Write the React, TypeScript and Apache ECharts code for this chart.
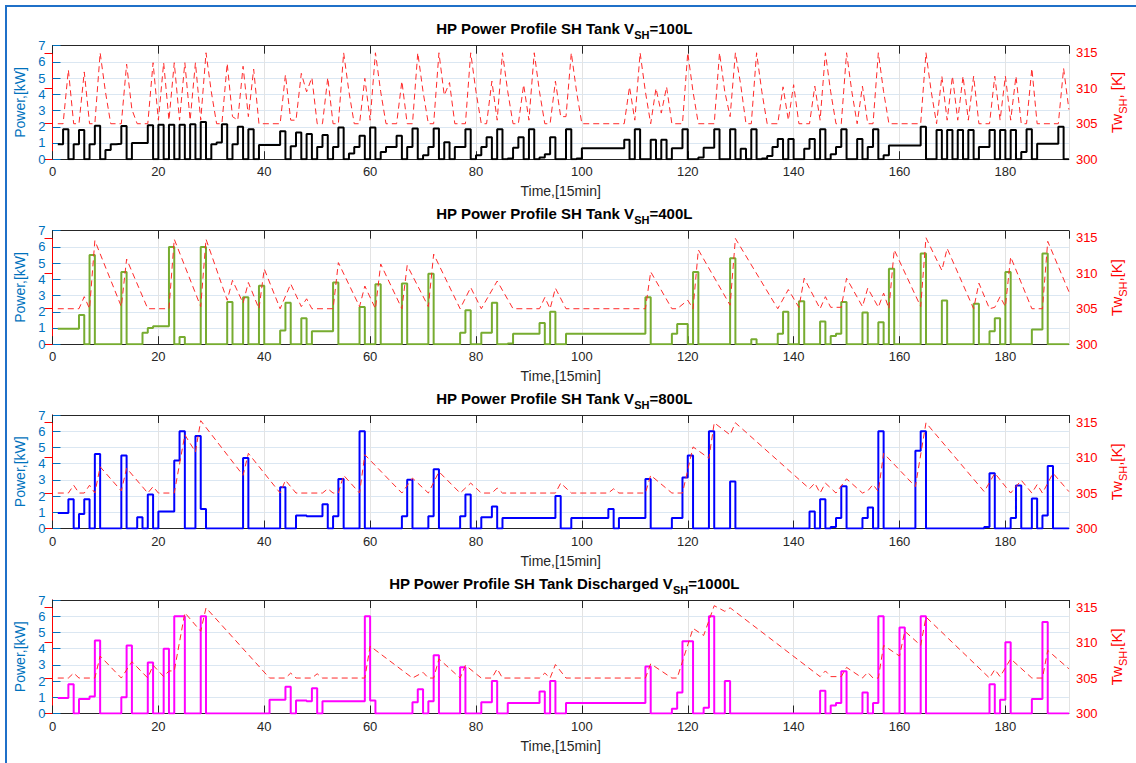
import React, { useEffect, useRef } from "react";
import * as echarts from "echarts";

// ---------- data: power steps [time, kW] (value holds until next point) ----------
const p1Power = [[1,0.92],[2,1.85],[3,0],[4,0.92],[5,1.8],[6,0],[7,0.92],[8,2.07],[9,0],[10,0.57],[11,0.92],[12,0.95],[13,2.05],[14,0],[15,1.0],[18,2.1],[19,0],[20,2.12],[21,0],[22,2.12],[23,0],[24,2.12],[25,0],[26,2.15],[27,0],[28,2.3],[29,0],[30,0.92],[31,1.03],[32,2.15],[33,0],[34,0.92],[35,2.0],[36,0],[37,1.85],[38,0],[39,0.88],[43,1.72],[44,0],[45,0.8],[46,1.65],[47,0],[48,1.55],[49,0],[50,0.75],[51,1.5],[52,0],[53,0.75],[54,1.95],[55,0],[56,0.35],[57,0.75],[58,1.45],[59,0],[60,1.95],[61,0],[62,0.45],[63,0.75],[65,1.45],[66,0],[67,0.75],[68,1.9],[69,0],[70,0.25],[71,0.75],[72,1.9],[73,0],[74,1.05],[75,0],[76,0.75],[78,1.85],[79,0],[80,0.25],[81,0.75],[82,1.35],[83,0],[84,1.85],[85,0],[86,0.05],[87,0.7],[88,1.35],[89,0],[90,1.85],[91,0],[92,0.1],[93,0.3],[94,1.35],[95,0],[97,1.85],[98,0],[99,0.05],[100,0.68],[108,1.2],[109,0],[110,1.85],[111,0],[113,1.2],[114,0],[115,1.2],[116,0],[117,0.68],[119,1.85],[120,0],[122,0.1],[123,0.7],[125,1.85],[126,0],[128,1.85],[129,0],[130,0.65],[131,0],[132,1.85],[133,0],[134,0.05],[135,0.2],[136,0.75],[137,1.25],[138,0],[139,1.25],[140,0],[142,0.65],[143,1.25],[144,0],[145,1.85],[146,0],[147,0.3],[148,0.75],[149,1.85],[150,0],[152,1.25],[153,0],[154,0.75],[155,1.85],[156,0],[157,0.25],[158,0.85],[164,2.0],[165,0],[167,1.8],[168,0],[169,1.8],[170,0],[171,1.8],[172,0],[173,1.8],[174,0],[175,0.75],[177,1.8],[178,0],[179,1.8],[180,0],[181,1.8],[182,0],[183,0.45],[184,1.85],[185,0],[186,0.95],[190,2.0],[191,0],[192,0]];
const p1Temp = [[1,305],[2,305],[3,312.6],[4,305],[5,305],[6,312.3],[7,305],[8,305],[9,315],[10,309.5],[11,305],[13,305],[14,313.4],[15,307],[16,305],[18,305],[19,313.6],[20,305.5],[21,313.6],[22,305.5],[23,313.6],[24,305.5],[25,313.6],[26,305.5],[27,313.6],[28,305.5],[29,315],[30,309.5],[31,305],[32,305],[33,313.5],[34,306],[35,305.5],[36,313.1],[37,306],[38,312.7],[39,305],[43,305],[44,311.9],[45,305.5],[46,305.5],[47,312.1],[48,309.5],[49,311.5],[50,305],[51,305],[52,311.5],[53,305],[54,305],[55,315],[56,309.5],[57,305],[58,305],[59,311.4],[60,305.5],[61,315],[62,309.5],[63,305],[65,305],[66,311],[67,305],[68,305],[69,315],[70,309.5],[71,305],[72,305],[73,315],[74,309],[75,310.8],[76,305],[78,305],[79,315],[80,309.5],[81,305],[82,305],[83,311],[84,305.5],[85,315],[86,309.5],[87,305],[88,305],[89,310.5],[90,305.5],[91,315],[92,309.5],[93,305],[94,305],[95,311],[96,306],[97,306],[98,315],[99,309.5],[100,305],[108,305],[109,310.2],[110,305.5],[111,315],[112,309.5],[113,305],[114,310],[115,306.5],[116,310.2],[117,305],[119,305],[120,315],[121,309.5],[122,305],[125,305],[126,315],[127,309.5],[128,306],[129,315],[130,310.5],[131,305],[132,305],[133,315],[134,309.5],[135,305],[137,305],[138,310.2],[139,305.5],[140,310.5],[141,305],[143,305],[144,310.3],[145,305.5],[146,315],[147,309.5],[148,305],[149,305],[150,315],[151,309.5],[152,305],[153,310.3],[154,305],[155,305],[156,315],[157,309.5],[158,305],[164,305],[165,315],[166,309.5],[167,305],[168,311.7],[169,305.5],[170,311.7],[171,305.5],[172,311.7],[173,305.5],[174,311.7],[175,305],[177,305],[178,311.7],[179,305.5],[180,311.7],[181,305.5],[182,311.7],[183,305],[184,305],[185,312.8],[186,305],[190,305],[191,312.8],[192,307]];

const p2Power = [[1,0.95],[5,1.8],[6,0],[7,5.5],[8,0],[13,4.45],[14,0],[17,0.7],[18,1.0],[19,1.1],[22,6.0],[23,0],[24,0.45],[25,0],[28,6.0],[29,0],[33,2.6],[34,0],[36,2.9],[37,0],[39,3.6],[40,0],[43,0.85],[44,2.55],[45,0],[47,1.6],[48,0],[49,0.8],[53,3.8],[54,0],[58,2.3],[59,0],[61,3.7],[62,0],[66,3.75],[67,0],[71,4.35],[72,0],[77,0.7],[78,2.1],[79,0],[81,0.7],[83,2.55],[84,0],[86,0.05],[87,0.65],[92,1.3],[93,0],[94,2.0],[95,0],[97,0.65],[112,2.9],[113,0],[117,0.65],[118,1.25],[120,0],[121,4.45],[122,0],[128,5.3],[129,0],[132,0.3],[133,0],[137,0.65],[138,2.0],[139,0],[141,2.65],[142,0],[145,1.4],[146,0],[147,0.5],[148,0.65],[149,2.6],[150,0],[153,1.95],[154,0],[156,1.35],[157,0],[158,4.65],[159,0],[164,5.6],[165,0],[168,2.7],[169,0],[174,2.5],[175,0],[177,0.8],[178,1.6],[179,0],[180,4.45],[181,0],[185,0.9],[187,5.6],[188,0],[192,0]];
const p2Temp = [[1,305],[5,305],[6,306.7],[7,305],[8,314.6],[13,305.3],[14,312],[18,305],[22,305],[23,314.8],[28,305.3],[29,314.8],[33,306.2],[34,309],[36,305.8],[37,308.7],[39,305],[40,310.6],[43,305],[45,308.5],[47,305.3],[48,306.4],[49,305],[53,305],[54,311.5],[58,305.3],[59,308.2],[61,305],[62,311.3],[66,305],[67,311.1],[71,305.3],[72,312.7],[77,305],[79,308],[81,305],[84,308.9],[87,305],[92,305],[93,306.6],[94,305],[95,307.9],[97,305],[112,305],[113,310.2],[117,305],[118,305],[120,306.2],[121,305],[122,313.3],[128,305.5],[129,314.9],[137,305],[139,307.7],[141,305.2],[142,309.3],[145,305],[146,306.7],[147,305.2],[149,305.2],[150,309.3],[153,305.3],[154,307.9],[156,305.2],[157,307.2],[158,305],[159,313.3],[164,305.3],[165,315],[168,310.4],[169,313.5],[174,305],[175,308.6],[177,305],[178,305.2],[179,306.7],[180,305.3],[181,312.3],[185,305],[187,305],[188,314.5],[192,307.4]];

const p3Power = [[1,0.95],[3,1.8],[4,0],[5,0.9],[6,1.8],[7,0],[8,4.6],[9,0],[13,4.5],[14,0],[16,0.7],[17,0],[18,2.1],[19,0],[20,1.05],[23,4.2],[24,6.0],[25,0],[27,5.7],[28,1.2],[29,0],[36,4.35],[37,0],[43,2.55],[44,0],[46,0.8],[48,0.75],[51,1.5],[52,0],[53,0.75],[54,3.05],[55,0],[58,6.0],[59,0],[66,0.75],[67,3.0],[68,0],[71,0.75],[72,3.65],[73,0],[77,0.75],[78,2.1],[79,0],[81,0.7],[83,1.35],[84,0],[85,0.65],[95,2.0],[96,0],[98,0.65],[105,1.2],[106,0],[107,0.65],[112,3.05],[113,0],[117,0.65],[119,3.15],[120,4.5],[121,0],[124,6.0],[125,0],[128,2.9],[129,0],[143,1.05],[144,0],[145,1.8],[146,0],[147,0.1],[148,0.65],[149,2.6],[150,0],[153,0.65],[154,1.3],[155,0],[156,6.0],[157,0],[163,4.8],[164,6.0],[165,0],[176,0.1],[177,3.4],[178,0],[181,0.65],[182,2.65],[183,0],[185,1.85],[186,0],[187,0.8],[188,3.85],[189,0],[192,0]];
const p3Temp = [[1,305],[3,305],[4,306.1],[5,305],[6,305],[7,306.1],[8,305],[9,308.7],[13,305.3],[14,308.5],[18,305],[19,305.9],[20,305],[23,305],[25,313.2],[27,310.8],[28,315.2],[36,307.5],[37,310.6],[43,305],[44,306.8],[46,305],[51,305],[52,305.6],[53,305],[54,305],[55,307.5],[58,305],[59,310.4],[66,305],[68,307.1],[71,305],[73,308],[77,305],[79,306.4],[81,305],[83,305],[84,305.7],[85,305],[95,305],[96,306.4],[98,305],[105,305],[106,305.6],[107,305],[112,305],[113,307.5],[117,305],[119,305],[121,311.5],[124,309.9],[125,314.9],[128,313.2],[129,314.9],[143,305.6],[144,306.4],[145,305],[146,306.4],[148,305],[150,307],[153,305],[154,305.3],[155,306.2],[156,305.2],[157,310.6],[163,305.9],[165,314.9],[176,305.2],[178,307.8],[181,305],[183,306.8],[185,305],[186,306.2],[187,305],[189,307.8],[192,305.2]];

const p4Power = [[1,0.95],[3,1.8],[4,0],[5,0.9],[7,1.05],[8,4.5],[9,0],[13,1.0],[14,4.2],[15,0],[18,3.15],[19,0],[21,4.0],[22,0],[23,6.0],[25,0],[28,6.0],[29,0],[41,0.85],[44,1.65],[45,0],[46,0.8],[48,0.75],[49,1.55],[50,0],[51,0.75],[59,6.0],[60,0.8],[61,0],[68,0.7],[69,1.5],[70,0],[71,0.75],[72,3.6],[73,0],[77,2.85],[78,0],[81,0.7],[83,2.0],[84,0],[86,0.65],[92,1.35],[93,0],[94,2.0],[95,0],[97,0.65],[112,2.9],[113,0],[117,0.3],[118,1.3],[119,4.45],[121,0],[123,0.35],[124,6.0],[125,0],[127,2.0],[128,0],[145,1.4],[146,0],[147,0.5],[148,0.65],[149,2.6],[150,0],[153,1.3],[154,0],[155,0.65],[156,6.0],[157,0],[160,5.3],[161,0],[164,6.0],[165,0],[177,1.8],[178,0],[179,0.85],[180,4.4],[181,0],[185,0.9],[187,5.65],[188,0],[192,0]];
const p4Temp = [[1,305],[3,305],[4,305.7],[5,305],[8,305],[9,308.1],[13,305],[15,307.3],[18,305],[19,306.8],[21,305.2],[22,306],[23,306],[25,314.2],[28,311.6],[29,314.9],[41,305],[44,305],[45,305.7],[46,305],[49,305],[50,305.6],[51,305],[59,305],[60,309.5],[68,305],[70,305.8],[71,305],[72,305],[73,307.7],[77,305],[78,306.8],[81,305],[83,305],[84,306.3],[85,305],[92,305],[93,305.7],[94,305],[95,306.9],[97,305],[112,305],[113,307],[117,305],[118,305],[121,312],[123,311],[125,315.2],[127,314.4],[128,314.9],[145,305.2],[146,306],[147,305.2],[149,305.2],[150,306.5],[153,305],[154,305.8],[155,305],[156,305],[157,309.6],[160,308.1],[161,311.6],[164,309.6],[165,313.6],[177,305],[178,306.2],[179,305.2],[181,307.7],[185,305],[187,305],[188,308.9],[192,306.3]];

const titlePrefixes = ["HP Power Profile SH Tank V", "HP Power Profile SH Tank V", "HP Power Profile SH Tank V", "HP Power Profile SH Tank Discharged V"];
const titleSuffixes = ["=100L", "=400L", "=800L", "=1000L"];
const rightNameTails = ", [K]|,[K]|,[K]|,[K]".split("|");
const powerColors = ["#000000", "#77AC30", "#0000FF", "#FF00FF"];
const powerSeries = [p1Power, p2Power, p3Power, p4Power];
const tempSeries = [p1Temp, p2Temp, p3Temp, p4Temp];
const xTickLabels = [0, 20, 40, 60, 80, 100, 120, 140, 160, 180];

const FONT = "'Liberation Sans', Arial, Helvetica, sans-serif";
const BLUE = "#0072BD";
const RED = "#FF0000";
const DARK = "#262626";

const gridTops = [45.7, 230.7, 415, 600];
const GRID_H = 113.5;
const GRID_L = 52.5;
const GRID_R = 60;

function buildOption() {
  const grid: any[] = [];
  const xAxis: any[] = [];
  const yAxis: any[] = [];
  const series: any[] = [];
  const graphic: any[] = [];

  for (let i = 0; i < 4; i++) {
    grid.push({ left: GRID_L, right: GRID_R, top: gridTops[i], height: GRID_H, containLabel: false });
    xAxis.push({
      type: "value", gridIndex: i, min: 0, max: 192, interval: 20, position: "bottom",
      axisLine: { show: true, lineStyle: { color: DARK, width: 1 } },
      axisTick: { show: true, inside: true, length: 8, lineStyle: { color: DARK } },
      axisLabel: {
        show: true, fontSize: 13, color: DARK, fontFamily: FONT, margin: 6, showMaxLabel: false,
        formatter: (v: number) => (xTickLabels.indexOf(v) >= 0 ? String(v) : ""),
      },
      splitLine: { show: true, lineStyle: { color: "#e3e3e3", width: 1 } },
      name: "Time,[15min]", nameLocation: "middle", nameGap: 25,
      nameTextStyle: { fontSize: 14, color: DARK, fontFamily: FONT },
    });
    xAxis.push({
      type: "value", gridIndex: i, min: 0, max: 192, interval: 20, position: "top",
      axisLine: { show: true, lineStyle: { color: DARK, width: 1 } },
      axisTick: { show: true, inside: true, length: 8, lineStyle: { color: DARK } },
      axisLabel: { show: false }, splitLine: { show: false },
    });
    yAxis.push({
      type: "value", gridIndex: i, min: 0, max: 7, interval: 1, position: "left",
      axisLine: { show: true, lineStyle: { color: BLUE, width: 1 } },
      axisTick: { show: true, inside: true, length: 8, lineStyle: { color: BLUE } },
      axisLabel: { fontSize: 13, color: BLUE, fontFamily: FONT, margin: 7 },
      splitLine: { show: true, lineStyle: { color: "#dbe7f2", width: 1 } },
      name: "Power,[kW]", nameLocation: "middle", nameGap: 16, nameRotate: 90,
      nameTextStyle: { fontSize: 14, color: BLUE, fontFamily: FONT },
    });
    yAxis.push({
      type: "value", gridIndex: i, min: 300, max: 316, interval: 5, position: "right",
      axisLine: { show: true, lineStyle: { color: RED, width: 1 } },
      axisTick: { show: true, inside: true, length: 8, lineStyle: { color: RED } },
      axisLabel: { fontSize: 13, color: RED, fontFamily: FONT, margin: 7, showMaxLabel: false },
      splitLine: { show: false },
      name: "{m|Tw}{s|SH}{m|" + rightNameTails[i] + "}",
      nameLocation: "middle", nameGap: 31, nameRotate: 90,
      nameTextStyle: {
        color: RED, fontFamily: FONT,
        rich: {
          m: { fontSize: 15, color: RED, fontFamily: FONT, lineHeight: 24, verticalAlign: "middle" },
          s: { fontSize: 11, color: RED, fontFamily: FONT, lineHeight: 10, verticalAlign: "bottom" },
        },
      },
    });

    series.push({
      type: "line", xAxisIndex: 2 * i, yAxisIndex: 2 * i, step: "end", showSymbol: false, symbol: "none",
      data: powerSeries[i], lineStyle: { color: powerColors[i], width: 2 }, z: 3,
    });
    series.push({
      type: "line", xAxisIndex: 2 * i, yAxisIndex: 2 * i + 1, showSymbol: false, symbol: "none",
      data: tempSeries[i], lineStyle: { color: "#ff2a2a", width: 1, type: [6, 4] }, z: 4,
    });

    graphic.push({
      type: "text", x: GRID_L + (1136 - GRID_L - GRID_R) / 2, y: gridTops[i] - 29, silent: true,
      style: {
        text: "{m|" + titlePrefixes[i] + "}{s|SH}{m|" + titleSuffixes[i] + "}",
        align: "center", textAlign: "center", verticalAlign: "top",
        rich: {
          m: { fontSize: 15, fontWeight: "bold", fill: "#000", fontFamily: FONT, lineHeight: 24, verticalAlign: "middle" },
          s: { fontSize: 11, fontWeight: "bold", fill: "#000", fontFamily: FONT, lineHeight: 10, verticalAlign: "bottom" },
        },
      },
    });
  }

  graphic.push({
    type: "rect", silent: true, shape: { x: 6, y: 6, width: 1300, height: 900 },
    style: { fill: "none", stroke: "#1f70c8", lineWidth: 2 },
  });

  return {
    animation: false,
    backgroundColor: "#ffffff",
    textStyle: { fontFamily: FONT },
    grid, xAxis, yAxis, series, graphic,
  };
}

export default function App() {
  const ref = useRef<HTMLDivElement>(null);
  useEffect(() => {
    if (!ref.current) return;
    const chart = echarts.init(ref.current, undefined, { renderer: "svg" });
    chart.setOption(buildOption() as any);
    return () => chart.dispose();
  }, []);
  return (
    <div
      ref={ref}
      style={{ position: "fixed", left: 0, top: 0, width: 1136, height: 763, background: "#fff" }}
    />
  );
}
